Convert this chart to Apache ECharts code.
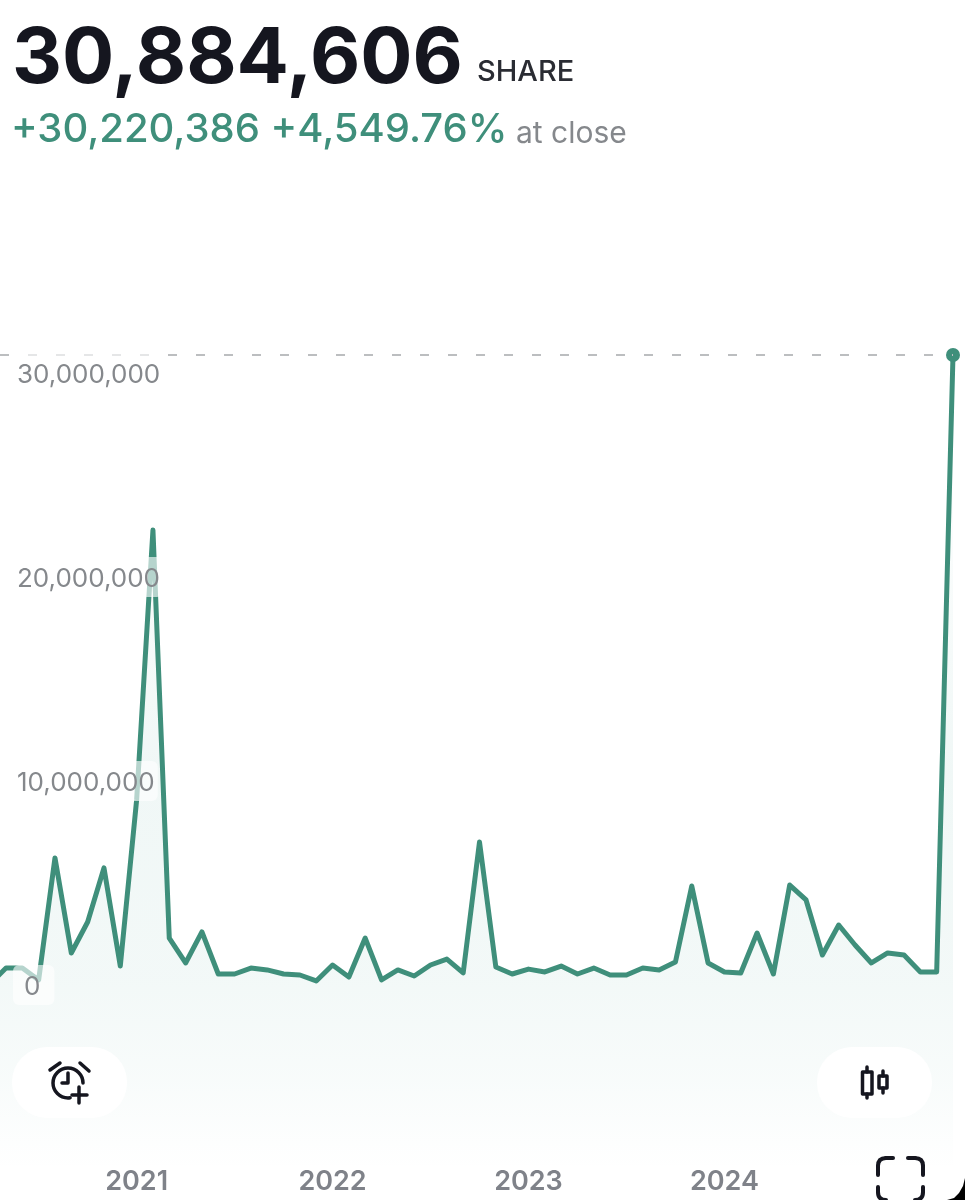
<!DOCTYPE html>
<html>
<head>
<meta charset="utf-8">
<style>html,body{margin:0;padding:0;background:#fff}#c{width:965px;height:1200px}</style>
<script src="https://cdn.jsdelivr.net/npm/echarts@6/dist/echarts.min.js"></script>
</head>
<body>
<div id="c"></div>
<script>
var months = ['2020-04','2020-05','2020-06','2020-07','2020-08','2020-09','2020-10','2020-11','2020-12',
  '2021-01','2021-02','2021-03','2021-04','2021-05','2021-06','2021-07','2021-08','2021-09','2021-10','2021-11','2021-12',
  '2022-01','2022-02','2022-03','2022-04','2022-05','2022-06','2022-07','2022-08','2022-09','2022-10','2022-11','2022-12',
  '2023-01','2023-02','2023-03','2023-04','2023-05','2023-06','2023-07','2023-08','2023-09','2023-10','2023-11','2023-12',
  '2024-01','2024-02','2024-03','2024-04','2024-05','2024-06','2024-07','2024-08','2024-09','2024-10','2024-11','2024-12',
  '2025-01','2025-02','2025-03'];
var shares = [50000,830000,830000,250000,6230000,1570000,3090000,5740000,930000,9070000,22300000,2300000,1080000,2600000,540000,540000,830000,740000,540000,490000,200000,
  980000,390000,2300000,250000,740000,440000,980000,1270000,590000,7010000,880000,540000,
  780000,640000,930000,540000,830000,490000,490000,830000,740000,1130000,4850000,1080000,640000,
  590000,2550000,540000,4900000,4170000,1470000,2940000,1960000,1080000,1570000,1470000,640000,640000,30884606];
var yearTickMonths = ['2021-01','2022-01','2023-01','2024-01'];
var yTicks = [0,10000000,20000000,30000000];
var headline = '30,884,606';
var unitLabel = 'SHARE';
var changeLabel = '+30,220,386 +4,549.76%';
var closeLabel = 'at close';

var INK = '#15161f', GREEN = '#3f8f7b', GREY = '#85888c', FONT = 'Inter, sans-serif';
function txt(t, x, y, font, fill){
  return {type:'text', z:100, silent:true, style:{text:t, x:x, y:y, font:font+' '+FONT, fill:fill, textVerticalAlign:'middle'}};
}
function strokeStyle(w){ return {fill:'none', stroke:INK, lineWidth:w, lineCap:'round', lineJoin:'round'}; }
function poly(points, w){
  return {type:'polyline', z:101, silent:true, shape:{points:points}, style:strokeStyle(w)};
}
function curve(x1,y1,cx,cy,x2,y2,w){
  return {type:'bezierCurve', z:101, silent:true, shape:{x1:x1,y1:y1,cpx1:cx,cpy1:cy,x2:x2,y2:y2}, style:strokeStyle(w)};
}
function box(x,y,w,h,lw){
  return {type:'rect', z:101, silent:true, shape:{x:x,y:y,width:w,height:h}, style:strokeStyle(lw)};
}
function pill(x){
  return {type:'rect', z:100, silent:true, shape:{x:x, y:1047, width:115, height:71, r:35}, style:{fill:'#fff'}};
}
var chart = echarts.init(document.getElementById('c'), null, {renderer:'canvas', width:965, height:1200});
chart.setOption({
  animation:false,
  backgroundColor:'#fff',
  grid:{left:0, width:953, top:169, height:1020, containLabel:false},
  xAxis:{type:'value', min:0.6326, max:months.length-1, scale:true,
    axisLine:{show:false}, axisTick:{show:false}, splitLine:{show:false},
    axisLabel:{inside:true, margin:7, verticalAlign:'middle', color:'#7f8289', fontFamily:FONT, fontWeight:600, fontSize:27,
      customValues:yearTickMonths.map(function(m){return months.indexOf(m);}),
      formatter:function(v){return months[v].slice(0,4);}}},
  yAxis:{type:'value', min:-10000000, max:40000000, interval:10000000, z:5,
    axisLine:{show:false}, axisTick:{show:false}, splitLine:{show:false},
    axisLabel:{inside:true, margin:13,
      formatter:function(v){
        if(yTicks.indexOf(v)<0) return '';
        return v===0 ? '{z|0}' : '{n|'+v.toLocaleString('en-US')+'}';
      },
      rich:{
        n:{color:GREY, fontFamily:FONT, fontSize:26, backgroundColor:'rgba(255,255,255,0.62)', padding:[9,3,5,4], borderRadius:6},
        z:{color:GREY, fontFamily:FONT, fontSize:26, backgroundColor:'rgba(255,255,255,0.62)', padding:[9,14,5,11], borderRadius:6}
      }}},
  series:[{
    type:'line', data:shares.map(function(v,i){return [i,v];}), z:2,
    showAllSymbol:true,
    symbol:function(v,p){return p.dataIndex===shares.length-1?'circle':'none';},
    symbolSize:14,
    itemStyle:{color:GREEN},
    lineStyle:{color:GREEN, width:5, join:'round', cap:'round'},
    areaStyle:{origin:'start', color:{type:'linear',x:0,y:0,x2:0,y2:1,colorStops:[
      {offset:0,color:'rgba(60,155,140,0)'},
      {offset:0.2,color:'rgba(60,155,140,0.03)'},
      {offset:0.5,color:'rgba(60,155,140,0.11)'},
      {offset:0.75,color:'rgba(60,155,140,0.09)'},
      {offset:0.87,color:'rgba(60,155,140,0.05)'},
      {offset:0.95,color:'rgba(60,155,140,0.012)'},
      {offset:0.98,color:'rgba(60,155,140,0)'},
      {offset:1,color:'rgba(60,155,140,0)'}]}},
    markLine:{silent:true, symbol:'none', label:{show:false},
      lineStyle:{color:'#bcbec0', width:2, type:[9,19]},
      data:[{yAxis:shares[shares.length-1]}]}
  }],
  graphic:[
    txt(headline,12,60,'700 77.5px',INK),
    txt(unitLabel,477,72,'500 29px','#2a2c33'),
    txt(changeLabel,11,130,'500 40px',GREEN),
    txt(closeLabel,516,134,'400 30px',GREY),
    pill(12), pill(817),
    {type:'arc', z:101, silent:true, shape:{cx:68,cy:1083,r:15,startAngle:0,endAngle:1.43,clockwise:false}, style:strokeStyle(3.5)},
    poly([[50,1070],[60,1063]],3.5),
    poly([[80,1063],[89,1071]],3.5),
    poly([[68,1073],[68,1083],[62,1083]],3.5),
    poly([[72,1095],[87,1095]],3.5),
    poly([[79,1087],[79,1103]],3.5),
    poly([[867,1067],[867,1072]],3.5), poly([[867,1094],[867,1098]],3.5),
    box(862.5,1072,9.5,22,3.5),
    poly([[883,1071],[883,1076]],3.5), poly([[883,1088],[883,1093]],3.5),
    box(879,1076,8,12,3.5),
    poly([[878,1175],[878,1166]],4), curve(878,1166,878,1158,886,1158,4), poly([[886,1158],[893,1158]],4),
    poly([[908,1158],[915,1158]],4), curve(915,1158,923,1158,923,1166,4), poly([[923,1166],[923,1175]],4),
    poly([[878,1187],[878,1192]],4), curve(878,1192,878,1200,886,1200,4),
    poly([[923,1187],[923,1192]],4), curve(923,1192,923,1200,915,1200,4),
    {type:'polygon', z:102, silent:true, shape:{points:[[965,1178],[963,1186],[959,1193],[954,1198],[947,1200],[965,1200]]}, style:{fill:'#000'}}
  ]
});
</script>
</body>
</html>
